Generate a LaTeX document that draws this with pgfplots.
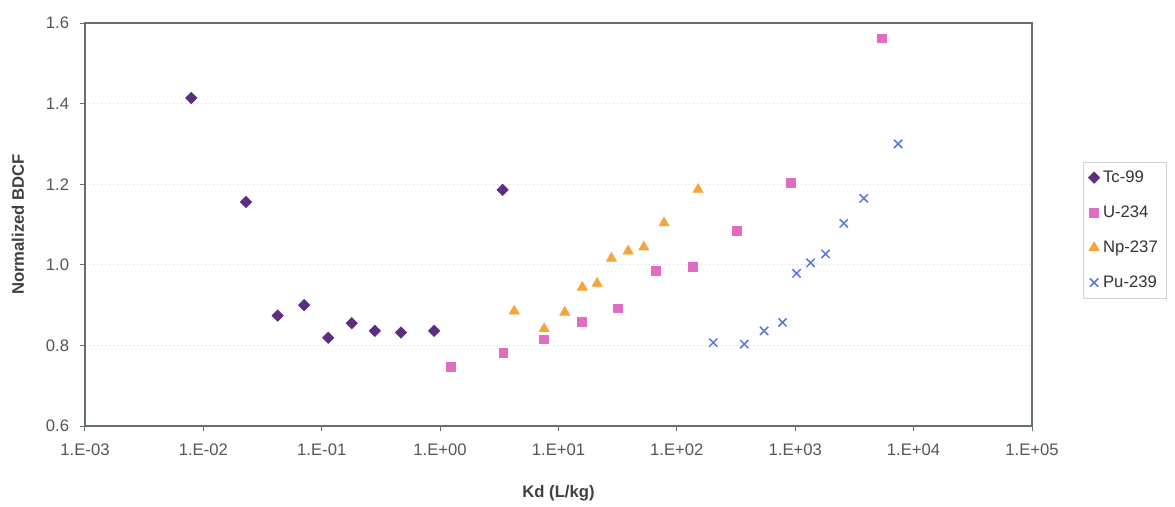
\documentclass[border=0pt]{standalone}
\usepackage{pgfplots}
\pgfplotsset{compat=1.18}
\usepackage{fontspec}
\setmainfont{Liberation Sans}
\definecolor{tccol}{RGB}{92,45,128}
\definecolor{ucol}{RGB}{226,108,192}
\definecolor{npcol}{RGB}{247,164,58}
\definecolor{pucol}{RGB}{84,122,222}
\definecolor{axcol}{RGB}{100,112,108}
\definecolor{tickcol}{RGB}{85,85,85}
\begin{document}
\begin{tikzpicture}
\useasboundingbox (-51pt,-48pt) rectangle (654pt,255.6pt);
\begin{axis}[
  at={(0pt,0pt)}, anchor=south west,
  scale only axis, width=568.2pt, height=241.8pt,
  xmode=log, xmin=1e-3, xmax=1e5, ymin=0.6, ymax=1.6,
  xminorticks=false,
  xtick={1e-3,1e-2,1e-1,1,1e1,1e2,1e3,1e4,1e5},
  xticklabels={1.E-03,1.E-02,1.E-01,1.E+00,1.E+01,1.E+02,1.E+03,1.E+04,1.E+05},
  ytick={0.6,0.8,1.0,1.2,1.4,1.6},
  yticklabels={0.6,0.8,1.0,1.2,1.4,1.6},
  xtick pos=bottom, ytick pos=left,
  tick align=outside, major tick length=3pt,
  tick style={axcol, line width=0.6pt},
  axis line style={axcol, line width=0.9pt},
  ymajorgrids, grid style={gray!35, dotted, line width=0.8pt},
  ticklabel style={font=\fontsize{10}{12}\selectfont, text=tickcol},
  xticklabel style={yshift=-4pt},
  yticklabel style={xshift=-3pt},
  xlabel={\bfseries Kd (L/kg)},
  ylabel={\bfseries Normalized BDCF},
  xlabel style={at={(axis description cs:0.5,-0.166)}, anchor=center, font=\fontsize{10}{12}\selectfont, text=black!75},
  ylabel style={at={(axis description cs:-0.0708,0.5)}, anchor=center, font=\fontsize{10}{12}\selectfont, text=black!75},
  legend style={at={(axis description cs:1.054,0.486)}, anchor=west, draw=gray!35, fill=white,
    font=\fontsize{10}{12}\selectfont, text=black!80, row sep=8.5pt, inner sep=3pt},
  legend cell align=left,
  clip=false,
]
\addplot[only marks, mark=square*, mark size=2.4pt, mark options={rotate=45}, color=tccol] coordinates {
(0.0079,1.414) (0.0229,1.156) (0.0424,0.874) (0.0711,0.900) (0.1135,0.819)
(0.179,0.855) (0.281,0.836) (0.467,0.832) (0.891,0.836) (3.37,1.186)
};
\addlegendentry{Tc-99}
\addplot[only marks, mark=square*, mark size=2.6pt, color=ucol] coordinates {
(1.23,0.747) (3.41,0.782) (7.53,0.815) (15.7,0.859) (31.6,0.892)
(66.5,0.985) (137,0.995) (319,1.084) (918,1.204) (5360,1.562)
};
\addlegendentry{U-234}
\addplot[only marks, mark=triangle*, mark size=3.5pt, color=npcol] coordinates {
(4.23,0.885) (7.57,0.841) (11.3,0.882) (15.9,0.944) (21.2,0.954)
(28.0,1.016) (38.8,1.034) (52.6,1.044) (78,1.104) (151,1.187)
};
\addlegendentry{Np-237}
\addplot[only marks, mark=x, mark size=3.5pt, line width=0.9pt, color=pucol] coordinates {
(203,0.807) (371,0.803) (546,0.836) (781,0.857) (1026,0.979)
(1346,1.005) (1803,1.027) (2570,1.103) (3793,1.165) (7400,1.300)
};
\addlegendentry{Pu-239}
\end{axis}
\end{tikzpicture}
\end{document}
